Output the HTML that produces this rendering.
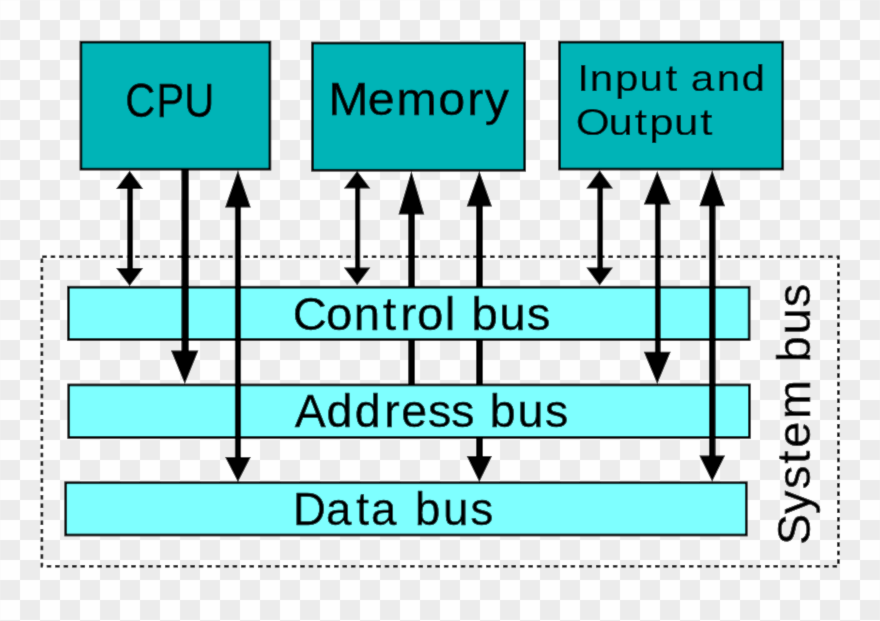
<!DOCTYPE html>
<html><head><meta charset="utf-8"><title>Computer system bus</title>
<style>
html,body{margin:0;padding:0;width:880px;height:621px;overflow:hidden;background:#fefefe;}
svg{display:block;}
text{font-family:"Liberation Sans",sans-serif;fill:#000;stroke:#000;stroke-width:0.5px;stroke-linejoin:round;}
</style></head><body>
<svg width="880" height="621" viewBox="0 0 880 621">
<defs><filter id="bl" filterUnits="userSpaceOnUse" x="-10" y="-10" width="900" height="641"><feConvolveMatrix order="3" kernelMatrix="0.01134 0.0838 0.01134 0.0838 0.6193 0.0838 0.01134 0.0838 0.01134" edgeMode="duplicate" preserveAlpha="true"/></filter><pattern id="chk" x="0" y="0" width="40" height="40" patternUnits="userSpaceOnUse">
<rect x="0" y="0" width="40" height="40" fill="#fefefe"/>
<rect x="20" y="0" width="20" height="20" fill="#ececec"/>
<rect x="0" y="20" width="20" height="20" fill="#ececec"/>
</pattern></defs>
<g filter="url(#bl)"><rect x="-10" y="-10" width="900" height="641" fill="url(#chk)"/>
<rect x="80.93" y="42.10" width="188.97" height="127.05" fill="#00b4b7" stroke="#000" stroke-width="2.7"/>
<rect x="312.55" y="43.05" width="212.10" height="127.20" fill="#00b4b7" stroke="#000" stroke-width="2.7"/>
<rect x="559.60" y="42.10" width="223.10" height="126.95" fill="#00b4b7" stroke="#000" stroke-width="2.7"/>
<path d="M41.9,256.8 H838.4 V566.3 H41.9 Z" fill="none" stroke="#000" stroke-width="2.6" stroke-dasharray="4.5 3.95" stroke-dashoffset="8.09"/>
<text transform="translate(0,116.80) scale(0.8813,1)" x="142.10 177.51 209.06" y="0" font-size="47.20">CPU</text>
<text transform="translate(0,114.80) scale(1.0430,1)" x="314.65 352.67 380.16 420.30 448.07 464.78" y="0" font-size="46.41">Memory</text>
<text style="stroke-width:0.15px" transform="translate(0,91.00) scale(1.1450,1)" x="504.24 515.15 537.08 558.60 581.33 591.56 603.18 625.98 647.51" y="0" font-size="36.83">Input and</text>
<text style="stroke-width:0.15px" transform="translate(0,135.00) scale(1.1719,1)" x="491.26 519.24 541.68 554.06 575.15 597.59" y="0" font-size="37.32">Output</text>
<rect x="408.20" y="190.00" width="6.80" height="196.00" fill="#000"/>
<polygon points="411.40,171.00 424.30,214.50 398.50,214.50" fill="#000"/>
<rect x="476.00" y="190.00" width="6.90" height="280.00" fill="#000"/>
<polygon points="479.35,171.00 492.00,206.50 466.70,206.50" fill="#000"/>
<polygon points="466.70,456.10 492.00,456.10 479.35,481.90" fill="#000"/>
<rect x="68.44" y="287.20" width="680.70" height="52.30" fill="#7effff" stroke="#000" stroke-width="2.7"/>
<rect x="68.70" y="384.95" width="680.70" height="52.45" fill="#7effff" stroke="#000" stroke-width="2.7"/>
<rect x="65.70" y="482.75" width="680.60" height="52.25" fill="#7effff" stroke="#000" stroke-width="2.7"/>
<text transform="translate(0,329.80) scale(1.0128,1)" x="289.06 321.94 349.34 378.13 395.40 411.80 439.11 449.50 465.52 492.98 520.03" y="0" font-size="46.78">Control bus</text>
<text transform="translate(0,427.20) scale(0.9987,1)" x="295.22 326.92 355.19 384.81 401.69 428.53 451.73 475.04 490.28 518.16 545.59" y="0" font-size="46.63">Address bus</text>
<text transform="translate(0,524.60) scale(0.9712,1)" x="301.66 335.61 366.88 381.91 408.00 427.32 456.14 484.48" y="0" font-size="46.91">Data bus</text>
<text transform="translate(809.50,540.70) rotate(-90) scale(1.0023,1)" x="-4.21 26.65 51.66 76.67 92.71 121.52 160.49 177.93 205.70 233.03" y="0" font-size="46.78">System bus</text>
<rect x="127.25" y="180.00" width="5.80" height="100.00" fill="#000"/>
<polygon points="129.65,170.80 143.20,189.00 116.10,189.00" fill="#000"/>
<polygon points="116.10,267.90 143.20,267.90 129.65,285.90" fill="#000"/>
<rect x="181.40" y="169.00" width="7.40" height="191.00" fill="#000"/>
<polygon points="171.00,350.50 198.40,350.50 184.80,383.90" fill="#000"/>
<rect x="234.87" y="190.00" width="6.20" height="280.00" fill="#000"/>
<polygon points="237.95,170.20 250.80,207.50 225.10,207.50" fill="#000"/>
<polygon points="225.10,456.90 250.80,456.90 237.95,481.90" fill="#000"/>
<rect x="354.95" y="180.00" width="5.30" height="100.00" fill="#000"/>
<polygon points="357.15,171.00 370.40,188.50 343.90,188.50" fill="#000"/>
<polygon points="343.90,267.50 370.40,267.50 357.15,285.30" fill="#000"/>
<rect x="597.35" y="180.00" width="5.70" height="100.00" fill="#000"/>
<polygon points="599.65,170.20 613.00,188.60 586.30,188.60" fill="#000"/>
<polygon points="586.30,267.40 613.00,267.40 599.65,285.50" fill="#000"/>
<rect x="654.90" y="190.00" width="5.80" height="180.00" fill="#000"/>
<polygon points="657.25,171.00 670.70,204.50 643.80,204.50" fill="#000"/>
<polygon points="643.80,351.70 670.70,351.70 657.25,383.90" fill="#000"/>
<rect x="708.97" y="190.00" width="6.65" height="280.00" fill="#000"/>
<polygon points="712.20,170.20 725.10,206.20 699.30,206.20" fill="#000"/>
<polygon points="699.30,455.50 725.10,455.50 712.20,481.50" fill="#000"/></g>
</svg>
</body></html>
